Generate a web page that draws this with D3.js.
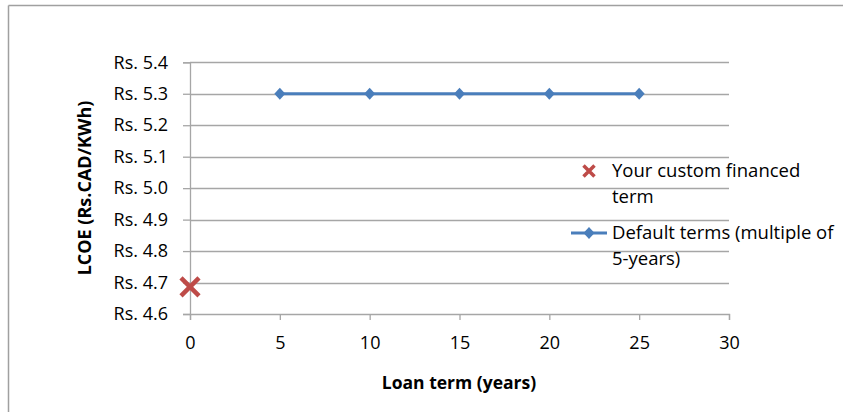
<!DOCTYPE html>
<html><head><meta charset="utf-8">
<script src="https://cdn.jsdelivr.net/npm/d3@7"></script>
<style>body{margin:0;background:#fff}svg{display:block}text{font-family:"Open Sans",sans-serif;fill:#000}</style>
</head><body><svg id="c" width="843" height="412"></svg>
<script>
const defaultTerms = [5, 10, 15, 20, 25];
const defaultLcoe = [5.3, 5.3, 5.3, 5.3, 5.3];
const customTerm = [0];
const customLcoe = [4.686];
const xTicks = [0, 5, 10, 15, 20, 25, 30];
const yTicks = [4.6, 4.7, 4.8, 4.9, 5.0, 5.1, 5.2, 5.3, 5.4];
const legendLabels = [["Your custom financed", "term"], ["Default terms (multiple of", "5-years)"]];

const svg = d3.select("#c");
const x = d3.scaleLinear().domain([0, 30]).range([190, 729]);
const y = d3.scaleLinear().domain([4.6, 5.4]).range([314, 62.3]);
const grid = "#a6a6a6";
const FONT = "Open Sans";

svg.append("line").attr("x1",8.5).attr("x2",843).attr("y1",5.5).attr("y2",5.5).attr("stroke","#a0a0a0").attr("stroke-width",1.5);
svg.append("line").attr("x1",8.5).attr("x2",8.5).attr("y1",5.5).attr("y2",412).attr("stroke","#a0a0a0").attr("stroke-width",1.5);

svg.append("g").selectAll("line").data(yTicks.slice(1)).join("line")
  .attr("x1", x(0)).attr("x2", x(30)).attr("y1", d=>Math.round(y(d))+0.5).attr("y2", d=>Math.round(y(d))+0.5)
  .attr("stroke", grid).attr("stroke-width",1.3);

const yAxis = svg.append("g").attr("transform", `translate(${x(0)},0)`)
  .call(d3.axisLeft(y).tickValues(yTicks).tickSize(7).tickPadding(15).tickFormat(d=>"Rs. "+d.toFixed(1)));
const xAxis = svg.append("g").attr("transform", `translate(0,${y(4.6)})`)
  .call(d3.axisBottom(x).tickValues(xTicks).tickSize(6).tickPadding(16).tickFormat(d3.format("d")));
[yAxis, xAxis].forEach(g=>{
  g.select(".domain").attr("stroke", grid).attr("stroke-width",1.3);
  g.selectAll(".tick line").attr("stroke", grid).attr("stroke-width",1.3);
  g.selectAll("text").attr("font-size",18).attr("font-family",FONT).attr("fill","#000");
});

const blue = "#4a7ebb", red = "#be4b48";
const diamondPath = "M0,-6L5.5,0L0,6L-5.5,0Z";
const line = d3.line().x((d,i)=>x(defaultTerms[i])).y(d=>y(d));
svg.append("path").datum(defaultLcoe).attr("d", line).attr("fill","none").attr("stroke",blue).attr("stroke-width",3);
svg.append("g").selectAll("path").data(defaultLcoe).join("path")
  .attr("d", diamondPath).attr("transform",(d,i)=>`translate(${x(defaultTerms[i])},${y(d)})`)
  .attr("fill",blue);

function cross(g, cx, cy, r, w){
  g.append("path").attr("d",`M${cx-r},${cy-r}L${cx+r},${cy+r}M${cx-r},${cy+r}L${cx+r},${cy-r}`)
   .attr("stroke",red).attr("stroke-width",w).attr("fill","none");
}
customLcoe.forEach((v,i)=>cross(svg, x(customTerm[i]), y(v), 9, 4.5));

const lg = svg.append("g");
cross(lg, 589, 171, 5.5, 3.5);
lg.append("line").attr("x1",571).attr("x2",607).attr("y1",233).attr("y2",233).attr("stroke",blue).attr("stroke-width",3);
lg.append("path").attr("d", diamondPath).attr("transform","translate(589,233)").attr("fill",blue);
legendLabels.forEach((lines,i)=>{
  const t = lg.append("text").attr("x",612).attr("y",[177,239][i]).attr("font-size",18.5);
  lines.forEach((s,j)=>t.append("tspan").attr("x",612).attr("dy", j?26:0).text(s));
});

svg.append("text").attr("x",459).attr("y",389).attr("text-anchor","middle").attr("font-weight","bold").attr("font-size",17.5).text("Loan term (years)");
svg.append("text").attr("transform","translate(91,188) rotate(-90)").attr("text-anchor","middle").attr("font-weight","bold").attr("font-size",18).text("LCOE (Rs.CAD/KWh)");
</script></body></html>
